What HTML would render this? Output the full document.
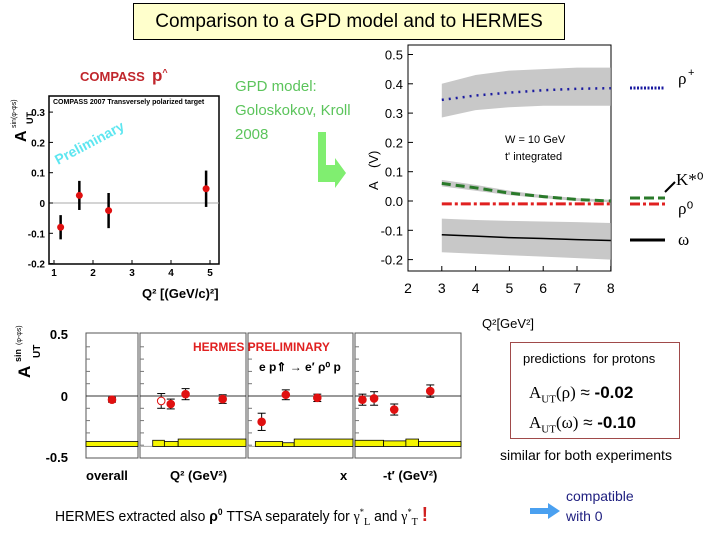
<!DOCTYPE html>
<html><head><meta charset="utf-8">
<style>
body{margin:0;background:#fff;}
#root{position:relative;width:720px;height:540px;overflow:hidden;font-family:"Liberation Sans",sans-serif;}
.t{position:absolute;white-space:nowrap;}
</style></head>
<body>
<div id="root">
<div class="t" style="left:133px;top:3px;width:430px;height:35px;background:#ffffcc;border:1px solid #000;font-size:19px;line-height:35px;text-align:center;">Comparison to a GPD model and to HERMES</div>
<div class="t" style="left:80px;top:66px;color:#c0262c;font-weight:bold;font-size:13px;">COMPASS&nbsp; <span style="font-size:17px">p</span><sup style="font-size:9px">^</sup></div>
<div class="t" style="left:235px;top:75px;color:#5bc45b;font-size:15px;line-height:24px;">GPD model:<br>Goloskokov, Kroll<br>2008</div>
<div class="t" style="left:510px;top:342px;width:168px;height:95px;border:1px solid #a04a4a;">
 <div class="t" style="left:12px;top:8px;font-size:13px;">predictions&nbsp; for protons</div>
 <div class="t" style="left:18px;top:38px;font-size:17px;line-height:24px;"><span style="font-family:'Liberation Serif',serif">A<sub style="font-size:11px">UT</sub>(ρ)</span> ≈ <b>-0.02</b><br><span style="font-family:'Liberation Serif',serif">A<sub style="font-size:11px">UT</sub>(ω)</span> ≈ <b>-0.10</b></div>
</div>
<div class="t" style="left:500px;top:447px;font-size:14px;">similar for both experiments</div>
<div class="t" style="left:55px;top:504px;font-size:15px;transform:scaleX(0.93);transform-origin:left;">HERMES extracted also <b>ρ<sup style="font-size:9px">0</sup></b> TTSA separately for <span style="font-family:'Liberation Serif',serif">γ<sup style="font-size:9px">*</sup><sub style="font-size:11px">L</sub></span> and <span style="font-family:'Liberation Serif',serif">γ<sup style="font-size:9px">*</sup><sub style="font-size:11px">T</sub></span> <span style="color:#d02020;font-size:20px;font-weight:bold">!</span></div>
<div class="t" style="left:566px;top:486px;font-size:14px;color:#202080;line-height:20px;">compatible<br>with 0</div>
<svg id="svg" width="720" height="540" style="position:absolute;left:0;top:0"></svg>
</div>
<script>
// COMPASS data
const cQ2=[1.17,1.65,2.4,4.9];
const cVal=[-0.08,0.025,-0.025,0.047];
const cErr=[0.04,0.048,0.058,0.06];
const cYTicks=[0.3,0.2,0.1,0,-0.1,-0.2];
const cXTicks=[1,2,3,4,5];
// GPD model
const gQ2=[3,4,5,6,7,8];
const rhoPlus=[0.345,0.36,0.37,0.378,0.383,0.385];
const rhoPlusHi=[0.40,0.43,0.445,0.45,0.455,0.455];
const rhoPlusLo=[0.285,0.31,0.32,0.325,0.325,0.325];
const kStar=[0.06,0.045,0.027,0.015,0.005,0.0];
const kStarHi=[0.072,0.055,0.035,0.02,0.01,0.004];
const kStarLo=[0.05,0.035,0.02,0.01,0.0,-0.004];
const rho0=[-0.01,-0.01,-0.01,-0.01,-0.01,-0.01];
const omega=[-0.115,-0.12,-0.125,-0.128,-0.132,-0.135];
const omegaHi=[-0.06,-0.065,-0.068,-0.07,-0.072,-0.075];
const omegaLo=[-0.175,-0.18,-0.185,-0.19,-0.195,-0.2];
const gYTicks=[0.5,0.4,0.3,0.2,0.1,0.0,-0.1,-0.2];
const gXTicks=[2,3,4,5,6,7,8];
// HERMES (x position within panel as fraction 0..1)
const hPanel=[0,1,1,1,1,2,2,2,3,3,3,3];
const hPos=[0.5,0.2,0.29,0.43,0.78,0.13,0.36,0.66,0.07,0.18,0.37,0.71];
const hVal=[-0.03,-0.04,-0.065,0.015,-0.025,-0.21,0.01,-0.015,-0.03,-0.02,-0.11,0.04];
const hErr=[0.02,0.06,0.04,0.045,0.035,0.07,0.04,0.03,0.045,0.055,0.045,0.05];
const hOpen=[0,1,0,0,0,0,0,0,0,0,0,0];
const bandPanel=[0,1,1,1,2,2,2,3,3,3,3];
const bandFrom=[0,0.12,0.23,0.36,0.07,0.33,0.44,0,0.27,0.48,0.6];
const bandTo=[1,0.23,0.36,1,0.33,0.44,1,0.27,0.48,0.6,1];
const bandTop=[-0.37,-0.36,-0.37,-0.35,-0.37,-0.38,-0.35,-0.36,-0.365,-0.35,-0.37];

const S=document.getElementById('svg');
const NS='http://www.w3.org/2000/svg';
function mk(tag,a,name,parent){const e=document.createElementNS(NS,tag);for(const k in a)e.setAttribute(k,a[k]);


(parent||S).appendChild(e);return e;}
function txt(x,y,s,a,name){const e=mk('text',Object.assign({x:x,y:y,'font-family':'Liberation Sans, sans-serif'},a),name);e.textContent=s;return e;}

// ---------- COMPASS ----------
const cx=v=>54+(v-1)*39, cy=v=>203-v*303;
mk('rect',{x:49,y:96,width:170,height:168,fill:'#fff',stroke:'#000','stroke-width':1.5},'compass-frame');
mk('line',{x1:49,x2:219,y1:cy(0),y2:cy(0),stroke:'#aaa'},'compass-zero-line');
txt(53,104,'COMPASS 2007 Transversely polarized target',{'font-size':7,'font-weight':'bold'},'compass-plot-title');
txt(58,165,'Preliminary',{'font-size':14,'font-weight':'bold',fill:'#5ee6f0',transform:'rotate(-28 58 165)'},'compass-preliminary');
cYTicks.forEach(v=>{mk('line',{x1:49,x2:53,y1:cy(v),y2:cy(v),stroke:'#000'},'compass-y-tick');
 txt(45,cy(v)+4,v===0?'0':v.toFixed(1),{'font-size':10,'font-weight':'bold','text-anchor':'end'},'compass-y-label');});
cXTicks.forEach(v=>{mk('line',{x1:cx(v),x2:cx(v),y1:264,y2:260,stroke:'#000'},'compass-x-tick');
 txt(cx(v),276,String(v),{'font-size':10,'font-weight':'bold','text-anchor':'middle'},'compass-x-label');});
txt(26,142,'A',{'font-size':16,'font-weight':'bold',transform:'rotate(-90 26 142)'},'compass-y-title');
txt(33,124,'UT',{'font-size':9,'font-weight':'bold',transform:'rotate(-90 33 124)'},'compass-y-title-sub');
txt(16,128,'sin(φ-φs)',{'font-size':7,transform:'rotate(-90 16 128)'},'compass-y-title-sup');
txt(142,298,'Q² [(GeV/c)²]',{'font-size':13,'font-weight':'bold'},'compass-x-title');
cQ2.forEach((q,i)=>{mk('line',{x1:cx(q),x2:cx(q),y1:cy(cVal[i]+cErr[i]),y2:cy(cVal[i]-cErr[i]),stroke:'#000','stroke-width':2.5},'compass-error-bar');
 mk('circle',{cx:cx(q),cy:cy(cVal[i]),r:3.5,fill:'#e01010'},'compass-point');});

// ---------- GPD ----------
const gx=v=>408+(v-2)*33.8, gy=v=>201-v*293;
mk('rect',{x:408,y:45,width:203,height:226,fill:'#fff',stroke:'#000'},'gpd-frame');
function band(hi,lo,name){let p=gQ2.map((q,i)=>gx(q)+','+gy(hi[i])).concat(gQ2.slice().reverse().map((q,j)=>gx(q)+','+gy(lo[gQ2.length-1-j])));
 mk('polygon',{points:p.join(' '),fill:'#c8c8c8'},name);}
band(rhoPlusHi,rhoPlusLo,'rho-plus-band');band(kStarHi,kStarLo,'kstar-band');band(omegaHi,omegaLo,'omega-band');
function line(v,st,name){mk('polyline',Object.assign({points:gQ2.map((q,i)=>gx(q)+','+gy(v[i])).join(' '),fill:'none'},st),name);}
line(rhoPlus,{stroke:'#1a1aa0','stroke-width':2.5,'stroke-dasharray':'2,5'},'rho-plus-line');
line(kStar,{stroke:'#2a7a2a','stroke-width':3,'stroke-dasharray':'9,5'},'kstar-line');
line(rho0,{stroke:'#e02020','stroke-width':3,'stroke-dasharray':'10,3,3,3'},'rho0-line');
line(omega,{stroke:'#000','stroke-width':1.5},'omega-line');
gYTicks.forEach(v=>{mk('line',{x1:408,x2:413,y1:gy(v),y2:gy(v),stroke:'#000'},'gpd-y-tick');
 txt(403,gy(v)+5,v.toFixed(1),{'font-size':13,'text-anchor':'end'},'gpd-y-label');});
gXTicks.forEach(v=>{mk('line',{x1:gx(v),x2:gx(v),y1:271,y2:266,stroke:'#000'},'gpd-x-tick');
 txt(gx(v),293,String(v),{'font-size':14,'text-anchor':'middle'},'gpd-x-label');});
txt(378,190,'A',{'font-size':13,transform:'rotate(-90 378 190)'},'gpd-y-title');
txt(378,168,'(V)',{'font-size':13,transform:'rotate(-90 378 168)'},'gpd-y-title-v');
txt(482,328,'Q²[GeV²]',{'font-size':13},'gpd-x-title');
txt(505,143,'W = 10 GeV',{'font-size':11},'gpd-w-note');
txt(505,160,"t' integrated",{'font-size':11},'gpd-t-note');
mk('line',{x1:630,x2:665,y1:88,y2:88,stroke:'#1a1aa0','stroke-width':3,'stroke-dasharray':'2,1.5'},'legend-rho-plus-swatch');
mk('line',{x1:630,x2:665,y1:198,y2:198,stroke:'#2a7a2a','stroke-width':3,'stroke-dasharray':'10,4'},'legend-kstar-swatch');
mk('line',{x1:630,x2:665,y1:204,y2:204,stroke:'#e02020','stroke-width':3,'stroke-dasharray':'10,3,3,3'},'legend-rho0-swatch');
mk('line',{x1:630,x2:665,y1:240,y2:240,stroke:'#000','stroke-width':3},'legend-omega-swatch');
txt(678,84,'ρ',{'font-size':17,'font-family':'Liberation Serif, serif'},'legend-rho-plus');txt(688,76,'+',{'font-size':11},'legend-rho-plus-sup');
txt(676,185,'K*⁰',{'font-size':17,'font-family':'Liberation Serif, serif'},'legend-kstar');
mk('line',{x1:675,x2:665,y1:182,y2:192,stroke:'#000','stroke-width':2},'legend-kstar-arrow');
txt(678,214,'ρ⁰',{'font-size':17,'font-family':'Liberation Serif, serif'},'legend-rho0');
txt(678,245,'ω',{'font-size':17,'font-family':'Liberation Serif, serif'},'legend-omega');
// green arrow
mk('polygon',{points:'318,132 326,132 326,165 335,165 335,158 346,173 335,188 335,182 318,182',fill:'#80ee70'},'green-arrow');

// ---------- HERMES ----------
const pL=[86,140,248,355], pW=[52,106,105,106];
const hy=v=>396-v*123;
pL.forEach((l,i)=>{mk('rect',{x:l,y:333,width:pW[i],height:125,fill:'#fff',stroke:'#555'},'hermes-panel');
 for(let v=-0.4;v<0.5;v+=0.1){mk('line',{x1:l,x2:l+4,y1:hy(v),y2:hy(v),stroke:'#777'},'hermes-tick');}
 mk('line',{x1:l,x2:l+pW[i],y1:hy(0),y2:hy(0),stroke:'#333'},'hermes-zero-line');
 mk('line',{x1:l,x2:l+pW[i],y1:hy(-0.41),y2:hy(-0.41),stroke:'#aaa'},'hermes-band-base');});
bandPanel.forEach((p,i)=>{const x1=pL[p]+bandFrom[i]*pW[p],x2=pL[p]+bandTo[i]*pW[p];
 mk('rect',{x:x1,y:hy(bandTop[i]),width:x2-x1,height:hy(-0.41)-hy(bandTop[i]),fill:'#f5f500',stroke:'#000','stroke-width':0.8},'hermes-syst-band');});
hVal.forEach((v,i)=>{const x=pL[hPanel[i]]+hPos[i]*pW[hPanel[i]];
 mk('line',{x1:x,x2:x,y1:hy(v+hErr[i]),y2:hy(v-hErr[i]),stroke:'#000'},'hermes-error-bar');
 mk('line',{x1:x-4,x2:x+4,y1:hy(v+hErr[i]),y2:hy(v+hErr[i]),stroke:'#000'},'hermes-error-cap');
 mk('line',{x1:x-4,x2:x+4,y1:hy(v-hErr[i]),y2:hy(v-hErr[i]),stroke:'#000'},'hermes-error-cap');
 mk('circle',{cx:x,cy:hy(v),r:3.8,fill:hOpen[i]?'#fff':'#e01010',stroke:'#e01010','stroke-width':1},'hermes-point');});
txt(68,339,'0.5',{'font-size':13,'font-weight':'bold','text-anchor':'end'},'hermes-y-label');
txt(68,401,'0',{'font-size':13,'font-weight':'bold','text-anchor':'end'},'hermes-y-label');
txt(68,462,'-0.5',{'font-size':13,'font-weight':'bold','text-anchor':'end'},'hermes-y-label');
txt(30,378,'A',{'font-size':17,'font-weight':'bold',transform:'rotate(-90 30 378)'},'hermes-y-title');
txt(40,358,'UT',{'font-size':10,'font-weight':'bold',transform:'rotate(-90 40 358)'},'hermes-y-title-sub');
txt(21,362,'sin',{'font-size':9,'font-weight':'bold',transform:'rotate(-90 21 362)'},'hermes-y-title-sup');
txt(21,345,'(φ-φs)',{'font-size':7,transform:'rotate(-90 21 345)'},'hermes-y-title-sup2');
txt(193,351,'HERMES PRELIMINARY',{'font-size':12,'font-weight':'bold',fill:'#e02020'},'hermes-preliminary');
txt(259,371,'e p⇑ → e′ ρ⁰ p',{'font-size':12,'font-weight':'bold'},'hermes-reaction');
txt(86,480,'overall',{'font-size':13,'font-weight':'bold'},'hermes-x-overall');
txt(170,480,'Q² (GeV²)',{'font-size':13,'font-weight':'bold'},'hermes-x-q2');
txt(340,480,'x',{'font-size':13,'font-weight':'bold'},'hermes-x-x');
txt(383,480,"-t′ (GeV²)",{'font-size':13,'font-weight':'bold'},'hermes-x-t');
// blue arrow
mk('polygon',{points:'530,508 548,508 548,503 560,511 548,519 548,514 530,514',fill:'#4aa0f0'},'blue-arrow');
</script>
</body></html>
